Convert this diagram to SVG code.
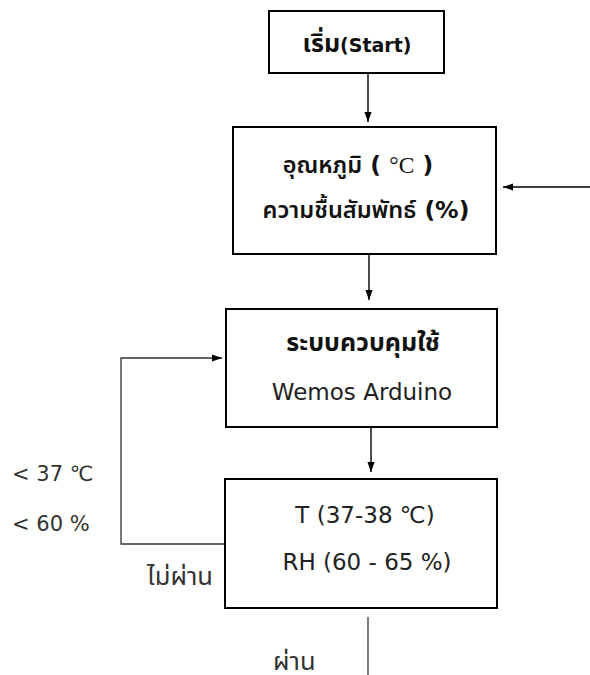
<svg xmlns="http://www.w3.org/2000/svg" width="590" height="675" viewBox="0 0 590 675">
<style>
.box{fill:#fff;stroke:#000;stroke-width:2}
.ln{fill:none;stroke:#000;stroke-width:1.4}
.ln2{fill:none;stroke:#333;stroke-width:1.3}
text{font-family:"DejaVu Sans","Noto Sans Thai","Noto Sans",sans-serif;fill:#111;text-anchor:middle}
.b{font-weight:bold}
.t{font-size:19px}
.h{font-size:23.5px}
.s{font-size:23px;fill:#222}
.lbl{font-size:21px;fill:#333;text-anchor:start}
.th{font-size:25.5px;fill:#333;text-anchor:start}
.serif{font-family:"Liberation Serif",serif}
</style>
<defs>
<marker id="ah" markerWidth="10" markerHeight="14" refX="14" refY="5" viewBox="0 0 14 10" orient="auto" markerUnits="userSpaceOnUse">
<path d="M0,0 L14,5 L0,10 Z" fill="#000"/>
</marker>
</defs>
<g id="connectors">
<line class="ln" x1="368" y1="73" x2="368" y2="122" marker-end="url(#ah)"/>
<line class="ln" x1="369" y1="254" x2="369" y2="300" marker-end="url(#ah)"/>
<line class="ln" x1="371" y1="427" x2="371" y2="472" marker-end="url(#ah)"/>
<line class="ln" x1="590" y1="187" x2="503" y2="187" marker-end="url(#ah)"/>
<polyline class="ln2" points="225,544 121,544 121,358 222,358" marker-end="url(#ah)"/>
<line class="ln2" x1="368" y1="617" x2="368" y2="675"/>
</g>
<g id="start">
<rect class="box" x="269" y="11" width="175" height="62"/>
<text class="t b" x="357" y="52"><tspan font-size="25px">เริ่ม</tspan>(Start)</text>
</g>
<g id="sensor">
<rect class="box" x="233" y="127" width="263" height="127"/>
<text class="h" x="358" y="173" font-weight="600">อุณหภูมิ ( <tspan class="serif" font-weight="normal">°C</tspan> )</text>
<text class="h" x="366" y="218" font-weight="600">ความชื้นสัมพัทธ์ (%)</text>
</g>
<g id="control">
<rect class="box" x="226" y="309" width="271" height="118"/>
<text class="b" font-size="25px" x="363" y="351">ระบบควบคุมใช้</text>
<text class="s" x="362" y="400">Wemos Arduino</text>
</g>
<g id="check">
<rect class="box" x="225" y="479" width="272" height="129"/>
<text class="s" x="365" y="523">T (37-38 ℃)</text>
<text class="s" x="367" y="570">RH (60 - 65 %)</text>
</g>
<g id="labels">
<text class="lbl" x="12" y="481">&lt; 37 ℃</text>
<text class="lbl" x="12" y="531">&lt; 60 %</text>
<text class="th" x="147" y="585">ไม่ผ่าน</text>
<text class="th" x="273" y="670">ผ่าน</text>
</g>
</svg>
